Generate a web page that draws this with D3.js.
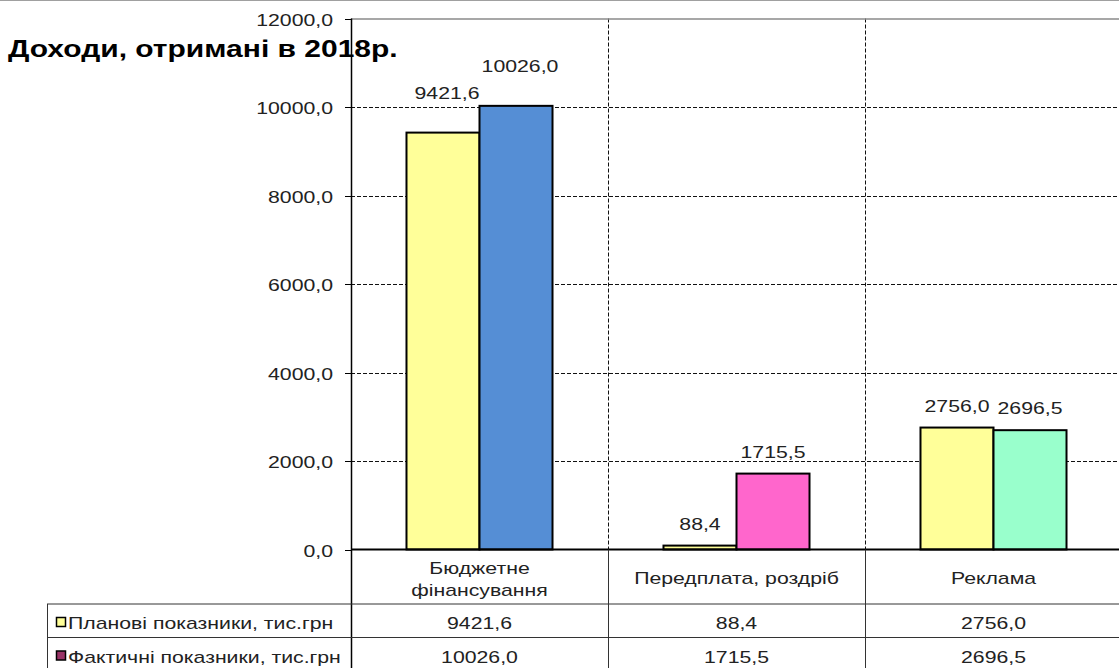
<!DOCTYPE html>
<html lang="uk">
  <head>
    <meta charset="utf-8">
    <script src="https://d3js.org/d3.v7.min.js"></script>
    <style>
      body { margin: 0; background: #fff; }
      text { font-family: "Liberation Sans", Arial, sans-serif; fill: #222; }
    </style>
  </head>
  <body>
    <svg width="1119" height="668"></svg>
    <script>
      // Data
      var categories = ["Бюджетне\nфінансування", "Передплата, роздріб", "Реклама"];
      var seriesNames = ["Планові показники, тис.грн", "Фактичні показники, тис.грн"];
      var planned = [9421.6, 88.4, 2756.0];
      var actual = [10026.0, 1715.5, 2696.5];
      var yTicks = [0, 2000, 4000, 6000, 8000, 10000, 12000];

      var seriesValues = [planned, actual];
      // Excel "vary colours by point" on the second series
      var pointColors = [
        ["#ffff99", "#ffff99", "#ffff99"],
        ["#558ed5", "#ff66cc", "#99ffcc"]
      ];
      var legendColors = ["#ffff99", "#993366"];

      var svg = d3.select("svg");
      var sx = 1.25; // the original text is stretched horizontally

      var fmt = function(v) { return d3.format(".1f")(v).replace(".", ","); };

      // add text stretched like the reference
      function label(g, x, y, str, anchor, size, weight) {
        return g.append("text")
          .attr("transform", "translate(" + x + "," + y + ") scale(" + sx + ",1)")
          .attr("text-anchor", anchor)
          .style("font-size", size + "px")
          .style("font-weight", weight || "normal")
          .text(str);
      }

      var plotLeft = 351, plotRight = 1122, plotTop = 18.5, plotBottom = 549.5;

      var x0 = d3.scaleBand().domain(d3.range(categories.length)).range([plotLeft, plotRight]);
      var x1 = d3.scaleBand().domain(d3.range(seriesNames.length))
        .range([0, x0.bandwidth()]).paddingInner(0).paddingOuter(0.76);
      var y = d3.scaleLinear().domain([0, 12000]).range([plotBottom, plotTop]);

      // top frame line of the picture
      svg.append("line").attr("x1", 0).attr("x2", 1119).attr("y1", 0.5).attr("y2", 0.5)
        .attr("stroke", "#a0a0a0");

      // horizontal gridlines
      svg.append("g").selectAll("line")
        .data(yTicks.filter(function(d) { return d > 0 && d < 12000; }))
        .enter().append("line")
          .attr("x1", plotLeft).attr("x2", plotRight)
          .attr("y1", function(d) { return Math.round(y(d)) + 0.5; })
          .attr("y2", function(d) { return Math.round(y(d)) + 0.5; })
          .attr("stroke", "#111").attr("stroke-dasharray", "4,2");

      // vertical gridlines between categories
      svg.append("g").selectAll("line")
        .data(d3.range(1, categories.length))
        .enter().append("line")
          .attr("x1", function(d) { return Math.round(x0(d)) + 0.5; })
          .attr("x2", function(d) { return Math.round(x0(d)) + 0.5; })
          .attr("y1", plotTop).attr("y2", plotBottom)
          .attr("stroke", "#111").attr("stroke-dasharray", "4,2");

      // plot top border
      svg.append("line").attr("x1", plotLeft).attr("x2", plotRight).attr("y1", 19).attr("y2", 19)
        .attr("stroke", "#8a8a8a").attr("stroke-width", 1.5);

      // bars
      var bars = svg.append("g");
      seriesValues.forEach(function(vals, s) {
        bars.selectAll(".s" + s)
          .data(vals)
          .enter().append("rect")
            .attr("class", "s" + s)
            .attr("x", function(d, i) { return x0(i) + x1(s); })
            .attr("width", x1.bandwidth())
            .attr("y", function(d) { return y(d); })
            .attr("height", function(d) { return plotBottom - y(d); })
            .attr("fill", function(d, i) { return pointColors[s][i]; })
            .attr("stroke", "#000").attr("stroke-width", 2);
      });

      // data labels (first group was lifted higher in the original)
      var lift = [34, 16, 16];
      var labels = svg.append("g");
      seriesValues.forEach(function(vals, s) {
        vals.forEach(function(v, i) {
          label(labels, x0(i) + x1(s) + x1.bandwidth() / 2 + (i === 0 ? 4 : 0),
            y(v) - lift[i], fmt(v), "middle", 17);
        });
      });

      // y axis
      var yAxis = svg.append("g").attr("transform", "translate(" + plotLeft + ",0)");
      yAxis.append("line").attr("x1", 0.5).attr("x2", 0.5).attr("y1", plotTop).attr("y2", 668)
        .attr("stroke", "#000").attr("stroke-width", 1.5);
      yTicks.forEach(function(t) {
        var ty = Math.round(y(t)) + 0.5;
        yAxis.append("line").attr("x1", -6).attr("x2", 0).attr("y1", ty).attr("y2", ty)
          .attr("stroke", "#000");
        label(yAxis, -18, ty + 6, fmt(t), "end", 17);
      });

      // x axis baseline
      svg.append("line").attr("x1", plotLeft).attr("x2", plotRight)
        .attr("y1", plotBottom).attr("y2", plotBottom)
        .attr("stroke", "#000").attr("stroke-width", 2);

      // data table
      var rowTop = [604, 637.5];
      var table = svg.append("g");
      rowTop.forEach(function(ry) {
        table.append("line").attr("x1", 47).attr("x2", plotRight).attr("y1", ry).attr("y2", ry)
          .attr("stroke", "#333");
      });
      table.append("line").attr("x1", 47.5).attr("x2", 47.5).attr("y1", rowTop[0]).attr("y2", 668)
        .attr("stroke", "#333");
      d3.range(1, categories.length).forEach(function(i) {
        var cx = Math.round(x0(i)) + 0.5;
        table.append("line").attr("x1", cx).attr("x2", cx).attr("y1", plotBottom).attr("y2", 668)
          .attr("stroke", "#333");
      });

      // category labels
      categories.forEach(function(c, i) {
        var lines = c.split("\n");
        var cx = x0(i) + x0.bandwidth() / 2;
        var y0 = lines.length > 1 ? 574 : 584;
        lines.forEach(function(ln, k) {
          label(table, cx, y0 + k * 22, ln, "middle", 17);
        });
      });

      // legend keys, series names and values
      seriesNames.forEach(function(name, s) {
        var base = rowTop[s] + 25;
        table.append("rect")
          .attr("x", 56.5).attr("y", rowTop[s] + 13.5).attr("width", 9).attr("height", 9)
          .attr("fill", legendColors[s]).attr("stroke", "#000").attr("stroke-width", 1.5);
        label(table, 68, base, name, "start", 17);
        seriesValues[s].forEach(function(v, i) {
          label(table, x0(i) + x0.bandwidth() / 2, base, fmt(v), "middle", 17);
        });
      });

      // title
      label(svg, 8, 57, "Доходи, отримані в 2018р.", "start", 24, "bold")
        .style("fill", "#000");
    </script>
  </body>
</html>
